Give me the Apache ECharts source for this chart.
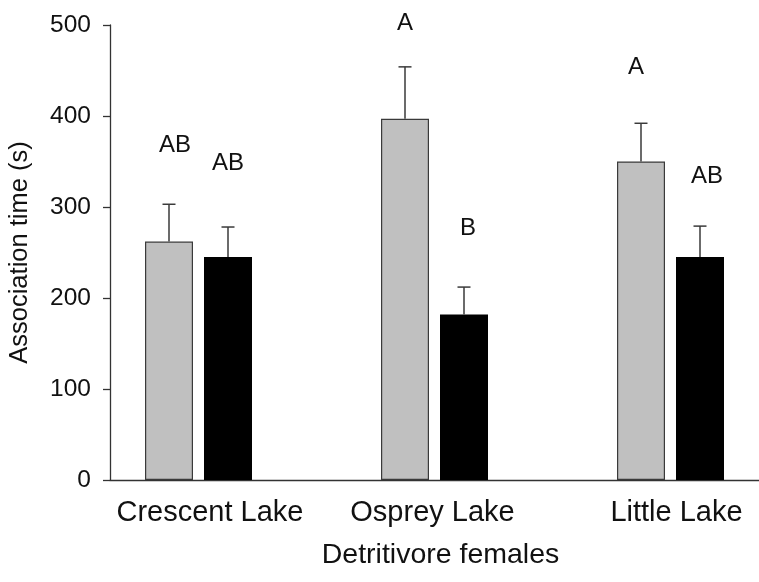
<!DOCTYPE html>
<html>
<head>
<meta charset="utf-8">
<script src="https://cdn.jsdelivr.net/npm/echarts@6/dist/echarts.min.js"></script>
<style>
  html, body { margin: 0; padding: 0; background: #fff; }
  #chart { width: 759px; height: 582px; }
</style>
</head>
<body>
<div id="chart"></div>
<script>
// Lakes on the x axis
const categories = ['Crescent Lake', 'Osprey Lake', 'Little Lake'];
const categoryPositions = [0, 1, 2];

// Mean association time (s) and standard error, grey and black treatments
const greyMeans = [262, 397, 350];
const greyErrors = [41, 57, 42];
const blackMeans = [245, 182, 245];
const blackErrors = [33, 30, 34];

// Significance letters and the height (s) at which each is written
const greyLetters = ['AB', 'A', 'A'];
const greyLetterHeights = [368, 502, 453];
const blackLetters = ['AB', 'B', 'AB'];
const blackLetterHeights = [348, 277, 334];

// Y axis range and step
const yMin = 0;
const yMax = 500;
const yStep = 100;

// Hand-placement nudges (px) for the letters and the lake names
const greyLetterNudge = [6, 0, -5];
const blackLetterNudge = [0, 4, 7];
const categoryLabelPadding = [[0, 0, 0, 23], [0, 4, 0, 0], [0, 0, 0, 12]];

const FONT = '"Liberation Sans", Arial, sans-serif';
const BAR_WIDTH = 48;
const BAR_GAP = 11;
const SHIFT = (BAR_WIDTH + BAR_GAP) / 2;

function barSeries(means, color, borderColor) {
  return {
    type: 'bar',
    data: means.map((m, i) => [categoryPositions[i], m]),
    barWidth: BAR_WIDTH,
    barGap: (BAR_GAP / BAR_WIDTH * 100) + '%',
    itemStyle: { color: color, borderColor: borderColor, borderWidth: 1.2 },
    emphasis: { disabled: true },
    z: 2
  };
}

function errorSeries(means, errors, letters, letterHeights, nudge, shift) {
  return {
    type: 'custom',
    data: means.map((m, i) => [categoryPositions[i], m, m + errors[i], letterHeights[i]]),
    encode: { x: 0, y: [1, 2, 3] },
    clip: false,
    z: 3,
    renderItem: function (params, api) {
      const i = params.dataIndex;
      const x = api.value(0);
      const base = api.coord([x, api.value(1)]);
      const top = api.coord([x, api.value(2)]);
      const lab = api.coord([x, api.value(3)]);
      const cx = base[0] + shift;
      const lineStyle = { stroke: '#3a3a3a', lineWidth: 1.5 };
      return {
        type: 'group',
        children: [
          { type: 'line', shape: { x1: cx, y1: base[1], x2: cx, y2: top[1] }, style: lineStyle },
          { type: 'line', shape: { x1: cx - 6.5, y1: top[1], x2: cx + 6.5, y2: top[1] }, style: lineStyle },
          {
            type: 'text',
            x: cx + nudge[i],
            y: lab[1],
            style: {
              text: letters[i],
              fill: '#111',
              font: '24px ' + FONT,
              align: 'center',
              verticalAlign: 'middle'
            }
          }
        ]
      };
    }
  };
}

const categoryRich = {};
categories.forEach((c, i) => {
  categoryRich['c' + i] = {
    fontFamily: FONT,
    fontSize: 29,
    color: '#111',
    padding: categoryLabelPadding[i]
  };
});

const chart = echarts.init(document.getElementById('chart'), null, { renderer: 'canvas' });

chart.setOption({
  animation: false,
  backgroundColor: '#ffffff',
  grid: { left: 110, right: 0, top: 25, bottom: 102, containLabel: false, outerBoundsMode: 'none' },
  xAxis: {
    type: 'value',
    min: -0.375,
    max: 2.375,
    name: 'Detritivore females',
    nameLocation: 'middle',
    nameGap: 61,
    nameTextStyle: { fontFamily: FONT, fontSize: 28.5, color: '#111', padding: [0, 0, 0, 12] },
    axisLine: { show: true, onZero: false, lineStyle: { color: '#333', width: 1.3 } },
    axisTick: { show: false },
    splitLine: { show: false },
    axisLabel: {
      customValues: categoryPositions,
      formatter: function (v) {
        const idx = categoryPositions.indexOf(Math.round(v));
        return idx >= 0 ? '{c' + idx + '|' + categories[idx] + '}' : '';
      },
      rich: categoryRich,
      margin: 18,
      fontFamily: FONT,
      fontSize: 29,
      color: '#111'
    }
  },
  yAxis: {
    type: 'value',
    min: yMin,
    max: yMax,
    interval: yStep,
    name: 'Association time (s)',
    nameLocation: 'middle',
    nameGap: 77,
    nameTextStyle: { fontFamily: FONT, fontSize: 25.5, color: '#111' },
    axisLine: { show: true, onZero: false, lineStyle: { color: '#333', width: 1.3 } },
    axisTick: { show: true, inside: false, length: 7, lineStyle: { color: '#333', width: 1.3 } },
    splitLine: { show: false },
    axisLabel: { margin: 19, fontFamily: FONT, fontSize: 24.5, color: '#111' }
  },
  series: [
    barSeries(greyMeans, '#c0c0c0', '#3a3a3a'),
    barSeries(blackMeans, '#000000', '#000000'),
    errorSeries(greyMeans, greyErrors, greyLetters, greyLetterHeights, greyLetterNudge, -SHIFT),
    errorSeries(blackMeans, blackErrors, blackLetters, blackLetterHeights, blackLetterNudge, SHIFT)
  ]
});
</script>
</body>
</html>
